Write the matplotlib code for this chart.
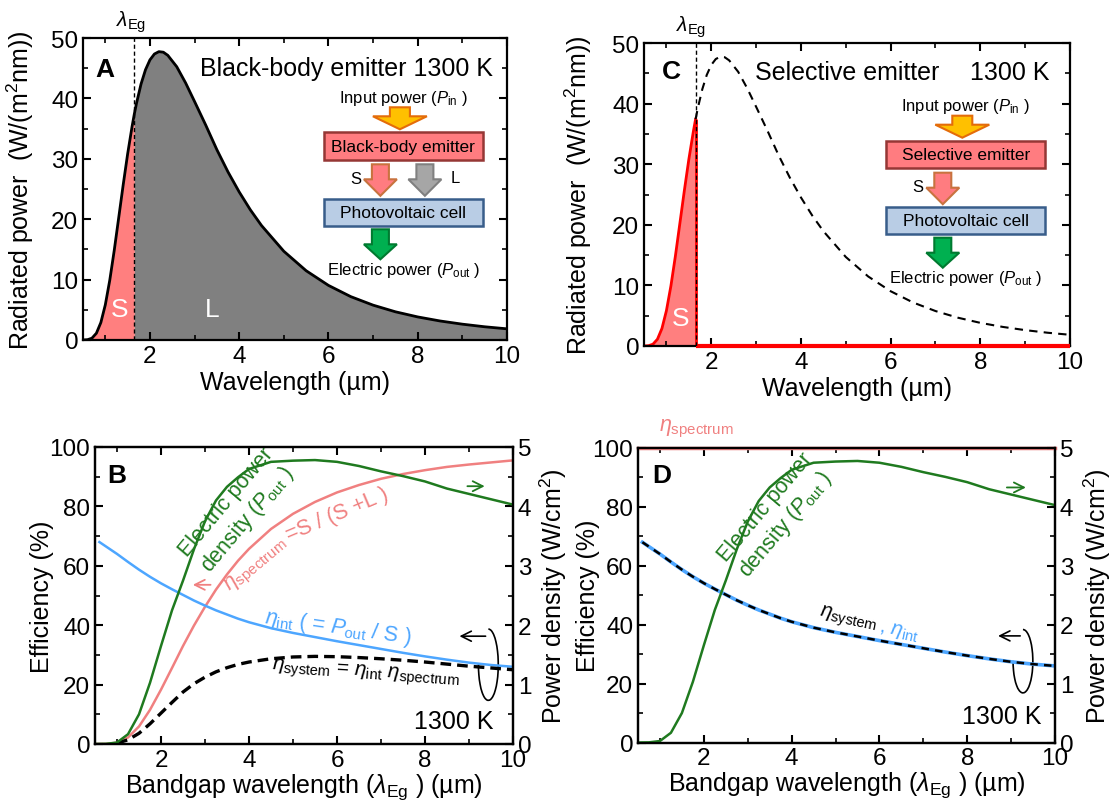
import matplotlib
matplotlib.use("Agg")
import matplotlib.pyplot as plt
import numpy as np
from matplotlib.patches import Polygon, Rectangle, Arc
from matplotlib.ticker import MultipleLocator

plt.rcParams["font.family"] = ["Liberation Sans", "DejaVu Sans"]
plt.rcParams["mathtext.fontset"] = "custom"
plt.rcParams["mathtext.rm"] = "Liberation Sans"
plt.rcParams["mathtext.it"] = "Liberation Sans:italic"
plt.rcParams["mathtext.bf"] = "Liberation Sans:bold"
plt.rcParams["axes.linewidth"] = 1.6

# ---- data ----
# black-body spectrum at 1300 K, W/(m^2 nm)
wavelength = np.array([0.5, 0.6, 0.7, 0.8, 0.9, 1.0, 1.1, 1.2, 1.3, 1.4, 1.5, 1.6, 1.65, 1.7,
                       1.8, 1.9, 2.0, 2.1, 2.2, 2.3, 2.4, 2.6, 2.8, 3.0, 3.25, 3.5, 3.75, 4.0,
                       4.25, 4.5, 5.0, 5.5, 6.0, 6.5, 7.0, 7.5, 8.0, 8.5, 9.0, 9.5, 10.0])
radiated = np.array([0.003, 0.047, 0.30, 1.12, 2.89, 5.83, 9.91, 14.84, 20.24, 25.66, 30.80,
                     35.37, 37.42, 39.24, 42.37, 44.74, 46.38, 47.35, 47.74, 47.65, 47.13,
                     45.25, 42.55, 39.48, 35.58, 31.50, 27.81, 24.51, 21.55, 18.95, 14.69,
                     11.47, 9.04, 7.18, 5.77, 4.67, 3.82, 3.15, 2.62, 2.19, 1.85])
lam_eg = 1.65

# efficiency vs bandgap wavelength (um)
bandgap = np.array([0.5, 0.75, 1.0, 1.25, 1.5, 1.75, 2.0, 2.25, 2.5, 2.75, 3.0, 3.25, 3.5,
                    3.75, 4.0, 4.5, 5.0, 5.5, 6.0, 6.5, 7.0, 7.5, 8.0, 8.5, 9.0, 9.5, 10.0])
p_out = np.array([0.0, 0.0025, 0.025, 0.165, 0.50, 1.03, 1.65, 2.25, 2.75, 3.28, 3.75, 4.10,
                  4.33, 4.49, 4.63, 4.75, 4.77, 4.78, 4.75, 4.68, 4.59, 4.51, 4.42, 4.30,
                  4.21, 4.12, 4.03])  # W/cm^2
eta_spectrum = np.array([0.0, 0.03, 0.43, 2.2, 5.9, 11.5, 18.3, 25.6, 33.0, 39.9, 46.2, 52.0,
                         57.1, 61.7, 65.7, 72.4, 77.5, 81.5, 84.7, 87.2, 89.3, 90.9, 92.2,
                         93.3, 94.1, 94.8, 95.5])
eta_spectrum_sel = [100.0] * len(bandgap)

bandgap_int = np.array([0.6, 0.75, 1.0, 1.25, 1.5, 1.75, 2.0, 2.25, 2.5, 2.75, 3.0, 3.25, 3.5,
                        3.75, 4.0, 4.5, 5.0, 5.5, 6.0, 6.5, 7.0, 7.5, 8.0, 8.5, 9.0, 9.5, 10.0])
eta_int = np.array([68.0, 66.5, 64.0, 61.3, 58.7, 56.3, 54.1, 52.1, 50.2, 48.3, 46.6, 45.0,
                    43.6, 42.2, 41.0, 39.0, 37.4, 36.0, 34.6, 33.3, 32.0, 30.7, 29.5, 28.4,
                    27.4, 26.6, 26.0])

bandgap_sys = np.array([1.0, 1.25, 1.5, 1.75, 2.0, 2.25, 2.5, 2.75, 3.0, 3.25, 3.5, 3.75, 4.0,
                        4.5, 5.0, 5.5, 6.0, 6.5, 7.0, 7.5, 8.0, 8.5, 9.0, 9.5, 10.0])
eta_system = np.array([0.3, 1.4, 3.6, 6.8, 10.4, 14.0, 17.5, 20.3, 22.5, 24.3, 25.7, 26.8,
                       27.6, 28.7, 29.3, 29.5, 29.4, 29.1, 28.7, 28.2, 27.6, 26.9, 26.2,
                       25.6, 25.0])

PINK = "#ff7f7f"
GREEN = "#1f7a1f"
BLUE = "#4da6ff"
LINE_PINK = "#f08080"

W, H = 1111, 804
fig = plt.figure(figsize=(W / 100, H / 100), dpi=100)


def px_axes(l, t, r, b):
    return fig.add_axes([l / W, 1 - b / H, (r - l) / W, (b - t) / H])


def fpx(x, y):
    return (x / W, 1 - y / H)


def style(ax, xmaj, xmin, ymaj, ymin, right=True):
    ax.xaxis.set_major_locator(MultipleLocator(xmaj))
    ax.xaxis.set_minor_locator(MultipleLocator(xmin))
    ax.yaxis.set_major_locator(MultipleLocator(ymaj))
    ax.yaxis.set_minor_locator(MultipleLocator(ymin))
    ax.tick_params(which="both", direction="in", top=True, right=right, labelsize=17.5)
    ax.tick_params(which="major", length=6, width=1.5)
    ax.tick_params(which="minor", length=3.5, width=1.2)


def box(cx, top, bottom, half_w, fc, ec, label):
    rect = Rectangle(fpx(cx - half_w, bottom), 2 * half_w / W, (bottom - top) / H,
                     transform=fig.transFigure, fc=fc, ec=ec, lw=1.8)
    fig.add_artist(rect)
    fig.text(cx / W, 1 - (top + bottom) / 2 / H, label, ha="center", va="center", fontsize=12.5)


def block_arrow(cx, top, neck, tip, shaft_w, head_w, fc, ec):
    pts = [(cx - shaft_w / 2, top), (cx + shaft_w / 2, top), (cx + shaft_w / 2, neck),
           (cx + head_w / 2, neck), (cx, tip), (cx - head_w / 2, neck), (cx - shaft_w / 2, neck)]
    fig.add_artist(Polygon([fpx(x, y) for x, y in pts], closed=True,
                           transform=fig.transFigure, fc=fc, ec=ec, lw=1.5))


def flowchart(cx, y0, emitter, with_l):
    fig.text(cx / W, 1 - y0 / H, r"Input power ($P_{\rm in}$ )", ha="center", va="center", fontsize=12)
    block_arrow(cx - 3.5, y0 + 10, y0 + 19, y0 + 32, 20, 54, "#ffc000", "#e46c0a")
    box(cx, y0 + 35, y0 + 62.5, 79.5, "#ff7c80", "#953735", emitter)
    block_arrow(cx - 23, y0 + 67, y0 + 82, y0 + 98.5, 17, 33, "#ff7c80", "#c8733f")
    fig.text((cx - 48) / W, 1 - (y0 + 81) / H, "S", ha="center", va="center", fontsize=12)
    if with_l:
        block_arrow(cx + 21.5, y0 + 67, y0 + 82, y0 + 98.5, 17, 33, "#a6a6a6", "#808080")
        fig.text((cx + 52) / W, 1 - (y0 + 80) / H, "L", ha="center", va="center", fontsize=12)
    box(cx, y0 + 101.7, y0 + 128.4, 79.5, "#b9cde5", "#385d8a", "Photovoltaic cell")
    block_arrow(cx - 23, y0 + 132, y0 + 147, y0 + 162, 17, 33, "#00b050", "#007a30")
    fig.text(cx / W, 1 - (y0 + 172) / H, r"Electric power ($P_{\rm out}$ )",
             ha="center", va="center", fontsize=12)


# ---------------- A ----------------
axA = px_axes(83, 39, 507, 341)
axA.fill_between(wavelength, radiated, where=wavelength <= lam_eg, color=PINK, lw=0)
axA.fill_between(wavelength, radiated, where=wavelength >= lam_eg, color="#808080", lw=0)
axA.plot(wavelength, radiated, color="k", lw=2)
axA.axvline(lam_eg, color="k", lw=1, ls=(0, (3, 2)))
axA.set_xlim(0.5, 10)
axA.set_ylim(0, 50)
style(axA, 2, 1, 10, 5)
axA.set_xlabel("Wavelength (µm)", fontsize=18, labelpad=2)
axA.set_ylabel("Radiated power  (W/(m$^2$nm))", fontsize=18)
axA.yaxis.set_label_coords(-0.111, 0.5)
axA.text(0.03, 0.897, "A", transform=axA.transAxes, fontsize=19, fontweight="bold", va="center")
axA.text(0.967, 0.9, "Black-body emitter 1300 K", transform=axA.transAxes, fontsize=18,
         ha="right", va="center")
axA.text(1.32, 5.1, "S", color="white", fontsize=19, ha="center", va="center")
axA.text(3.4, 5.1, "L", color="white", fontsize=19, ha="center", va="center")
axA.annotate(r"$\lambda_{\rm Eg}$", xy=(lam_eg, 1), xycoords=("data", "axes fraction"),
             xytext=(-2, 3), textcoords="offset points", ha="center", va="bottom", fontsize=15)
flowchart(403.4, 98.3, "Black-body emitter", True)

# ---------------- C ----------------
axC = px_axes(644, 44, 1070, 347)
below = wavelength <= lam_eg
above = wavelength >= lam_eg
axC.fill_between(wavelength[below], radiated[below], color=PINK, lw=0)
axC.plot(wavelength[below], radiated[below], color="red", lw=2)
axC.vlines(lam_eg, 0, radiated[wavelength == lam_eg], color="red", lw=2)
axC.hlines(0, lam_eg, wavelength[-1], color="red", lw=3, clip_on=False, zorder=5)
axC.plot(wavelength[above], radiated[above], color="k", lw=1.5, ls=(0, (4, 3)))
axC.axvline(lam_eg, color="k", lw=1, ls=(0, (3, 2)), zorder=6)
axC.set_xlim(0.5, 10)
axC.set_ylim(0, 50)
style(axC, 2, 1, 10, 5)
axC.set_xlabel("Wavelength (µm)", fontsize=18, labelpad=2)
axC.set_ylabel("Radiated power  (W/(m$^2$nm))", fontsize=18)
axC.yaxis.set_label_coords(-0.117, 0.5)
axC.text(0.042, 0.909, "C", transform=axC.transAxes, fontsize=19, fontweight="bold", va="center")
axC.text(0.261, 0.905, "Selective emitter", transform=axC.transAxes, fontsize=18, va="center")
axC.text(0.952, 0.905, "1300 K", transform=axC.transAxes, fontsize=18, ha="right", va="center")
axC.text(1.31, 4.7, "S", color="white", fontsize=19, ha="center", va="center")
axC.annotate(r"$\lambda_{\rm Eg}$", xy=(lam_eg, 1), xycoords=("data", "axes fraction"),
             xytext=(-3, 3), textcoords="offset points", ha="center", va="bottom", fontsize=15)
flowchart(965.8, 106.7, "Selective emitter", False)


def loop_arrow(ax, cx, cy, w, h, x_end):
    ax.add_patch(Arc((cx, cy), w, h, theta1=150, theta2=450, color="k", lw=1.2))
    ax.annotate("", xy=(x_end, cy + 0.4 * h), xytext=(cx, cy + 0.4 * h),
                arrowprops=dict(arrowstyle="->", color="k", lw=1.2, mutation_scale=18))


def bottom_panel(ax, label, label_x, left_lab, right_lab):
    ax2 = ax.twinx()
    ax.set_xlim(0.5, 10)
    ax.set_ylim(0, 100)
    ax2.set_ylim(0, 5)
    style(ax, 2, 1, 20, 10, right=False)
    ax2.yaxis.set_major_locator(MultipleLocator(1))
    ax2.yaxis.set_minor_locator(MultipleLocator(0.5))
    ax2.tick_params(which="both", direction="in", labelsize=17.5)
    ax2.tick_params(which="major", length=6, width=1.5)
    ax2.tick_params(which="minor", length=3.5, width=1.2)
    ax.set_xlabel(r"Bandgap wavelength ($\lambda_{\rm Eg}$ ) (µm)", fontsize=18, labelpad=0)
    ax.set_ylabel("Efficiency (%)", fontsize=18)
    ax.yaxis.set_label_coords(left_lab, 0.5)
    ax2.set_ylabel("Power density (W/cm$^2$)", fontsize=18)
    ax2.yaxis.set_label_coords(right_lab, 0.5)
    ax.text(label_x, 0.907, label, transform=ax.transAxes, fontsize=19, fontweight="bold",
            va="center")
    ax2.plot(bandgap, p_out, color=GREEN, lw=1.8)
    return ax2


# ---------------- B ----------------
axB = px_axes(95, 448, 513, 745)
axB2 = bottom_panel(axB, "B", 0.029, -0.099, 1.059)
axB.plot(bandgap, eta_spectrum, color=LINE_PINK, lw=1.8)
axB.plot(bandgap_int, eta_int, color=BLUE, lw=1.8)
axB.plot(bandgap_sys, eta_system, color="k", lw=2.4, ls=(0, (3.2, 1.8)))
axB.text(3.74, 78.5, "Electric power\n" + r"density ($P_{\rm out}$ )", color=GREEN, fontsize=15.5,
         rotation=50, ha="center", va="center", rotation_mode="anchor")
axB.text(4.18, 60.6, r"$\eta_{\rm spectrum}$", color=LINE_PINK, fontsize=15.5, rotation=40,
         ha="center", va="center", rotation_mode="anchor")
axB.text(6.0, 77.5, "=S / (S +L )", color=LINE_PINK, fontsize=15.5, rotation=23,
         ha="center", va="center", rotation_mode="anchor")
axB.text(6.02, 39.4, r"$\eta_{\rm int}$ ( = $P_{\rm out}$ / S )", color=BLUE, fontsize=15.5,
         rotation=-8, ha="center", va="center", rotation_mode="anchor")
axB.text(6.66, 24.1, r"$\eta_{\rm system}$ = $\eta_{\rm int}$ $\eta_{\rm spectrum}$", color="k",
         fontsize=15, rotation=-4, ha="center", va="center", rotation_mode="anchor")
axB.text(9.55, 7.7, "1300 K", fontsize=18, ha="right", va="center")
axB.annotate("", xy=(2.66, 53.6), xytext=(3.19, 53.6),
             arrowprops=dict(arrowstyle="->", color=LINE_PINK, lw=1.3, mutation_scale=18))
axB.annotate("", xy=(9.42, 86.8), xytext=(8.9, 86.8),
             arrowprops=dict(arrowstyle="->", color=GREEN, lw=1.3, mutation_scale=18))
loop_arrow(axB, 9.44, 26.7, 0.45, 24, 8.72)

# ---------------- D ----------------
axD = px_axes(638, 449, 1055, 743.5)
axD2 = bottom_panel(axD, "D", 0.034, -0.091, 1.064)
axD.plot(bandgap, eta_spectrum_sel, color="#e87a7a", lw=2.5, clip_on=False, zorder=5)
axD.plot(bandgap_int, eta_int, color=BLUE, lw=2.6)
axD.plot(bandgap_int, eta_int, color="k", lw=1.8, ls=(0, (3, 2.5)))
axD.text(0.97, 103, r"$\eta_{\rm spectrum}$", color=LINE_PINK, fontsize=15.5, va="bottom")
axD.text(3.65, 76.9, "Electric power\n" + r"density ($P_{\rm out}$ )", color=GREEN, fontsize=15.5,
         rotation=50, ha="center", va="center", rotation_mode="anchor")
axD.text(5.28, 41.9, r"$\eta_{\rm system}$", color="k", fontsize=15, rotation=-12,
         ha="center", va="center", rotation_mode="anchor")
axD.text(6.45, 38.0, r", $\eta_{\rm int}$", color=BLUE, fontsize=15, rotation=-12,
         ha="center", va="center", rotation_mode="anchor")
axD.text(9.69, 9.1, "1300 K", fontsize=18, ha="right", va="center")
axD.annotate("", xy=(9.4, 86.6), xytext=(8.84, 86.6),
             arrowprops=dict(arrowstyle="->", color=GREEN, lw=1.3, mutation_scale=18))
loop_arrow(axD, 9.27, 27.6, 0.45, 21.5, 8.64)

fig.savefig("out.png", dpi=100)
